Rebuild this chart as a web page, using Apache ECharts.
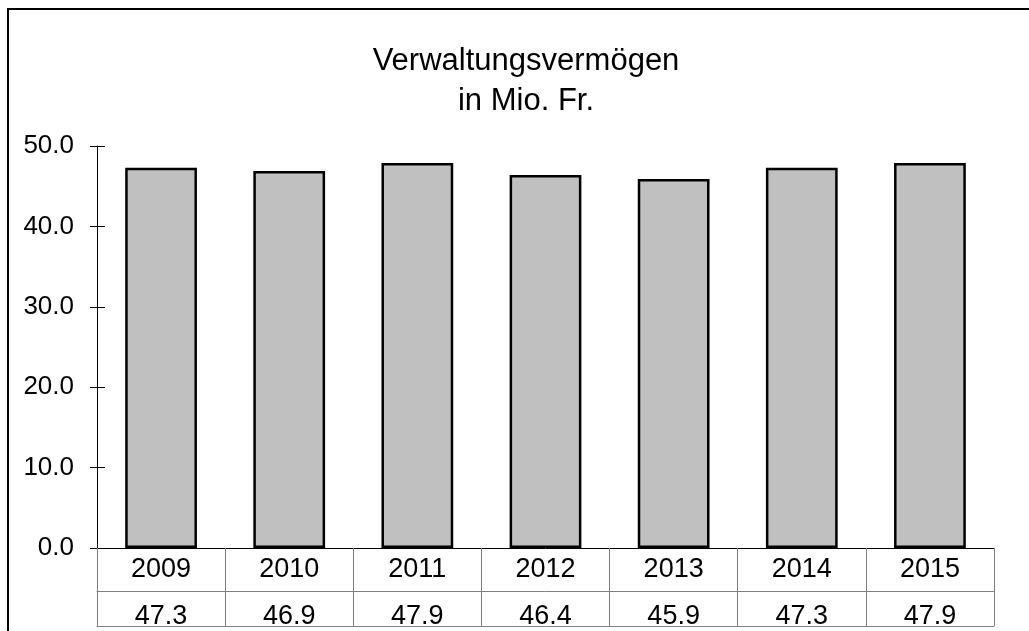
<!DOCTYPE html>
<html>
<head>
<meta charset="utf-8">
<script src="https://cdn.jsdelivr.net/npm/echarts@6/dist/echarts.min.js"></script>
<style>
html,body{margin:0;padding:0;background:#fff;}
#chart{width:1029px;height:631px;}
</style>
</head>
<body>
<div id="chart"></div>
<script>
var titleText = ['Verwaltungsvermögen', 'in Mio. Fr.'];
var years = ['2009', '2010', '2011', '2012', '2013', '2014', '2015'];
var values = [47.3, 46.9, 47.9, 46.4, 45.9, 47.3, 47.9];
var yTicks = { min: 0, max: 50, interval: 10 };

var valueLabels = values.map(function (v) { return v.toFixed(1); });
var FONT = '"Liberation Sans", Arial, sans-serif';
var TABLE_LINE = '#808080';

var chart = echarts.init(document.getElementById('chart'), null, { renderer: 'canvas' });
chart.setOption({
  backgroundColor: '#ffffff',
  animation: false,
  title: {
    text: titleText.join('\n'),
    left: 521,
    top: 36,
    textAlign: 'center',
    textStyle: { fontFamily: FONT, fontSize: 31, fontWeight: 'normal', color: '#000', lineHeight: 40 }
  },
  graphic: [{
    type: 'rect',
    shape: { x: 8, y: 9, width: 1200, height: 800 },
    style: { fill: 'none', stroke: '#000', lineWidth: 2 },
    silent: true
  }],
  grid: { left: 97, right: 35, top: 146, bottom: 83 },
  xAxis: [{
    type: 'category',
    data: years,
    position: 'bottom',
    axisLine: { show: true, onZero: false, lineStyle: { color: '#000', width: 1 } },
    axisTick: { show: true, length: 78, lineStyle: { color: TABLE_LINE, width: 1 } },
    axisLabel: { fontFamily: FONT, fontSize: 27, color: '#000', margin: 8, lineHeight: 27 },
    splitLine: { show: false }
  }, {
    type: 'category',
    data: valueLabels,
    position: 'bottom',
    offset: 43,
    axisLine: { show: true, onZero: false, lineStyle: { color: TABLE_LINE, width: 1 } },
    axisTick: { show: false },
    axisLabel: { fontFamily: FONT, fontSize: 27, color: '#000', margin: 12, lineHeight: 27 },
    splitLine: { show: false }
  }, {
    type: 'category',
    data: valueLabels,
    position: 'bottom',
    offset: 78,
    axisLine: { show: true, onZero: false, lineStyle: { color: TABLE_LINE, width: 1 } },
    axisTick: { show: false },
    axisLabel: { show: false },
    splitLine: { show: false }
  }],
  yAxis: [{
    type: 'value',
    min: yTicks.min, max: yTicks.max, interval: yTicks.interval,
    axisLine: { show: true, lineStyle: { color: '#000', width: 1 } },
    axisTick: { show: true, length: 7, lineStyle: { color: '#000', width: 1 } },
    axisLabel: {
      fontFamily: FONT, fontSize: 26, color: '#000', margin: 23,
      formatter: function (v) { return v.toFixed(1); }
    },
    splitLine: { show: false }
  }, {
    type: 'value',
    position: 'left',
    min: yTicks.min, max: yTicks.max, interval: yTicks.interval,
    axisLine: { show: false },
    axisTick: { show: true, inside: true, length: 8, lineStyle: { color: '#000', width: 1 } },
    axisLabel: { show: false },
    splitLine: { show: false }
  }],
  series: [{
    type: 'bar',
    xAxisIndex: 0,
    yAxisIndex: 0,
    data: values,
    barWidth: '56%',
    itemStyle: { color: '#C0C0C0', borderColor: '#000', borderWidth: 2.5 }
  }]
});
</script>
</body>
</html>
